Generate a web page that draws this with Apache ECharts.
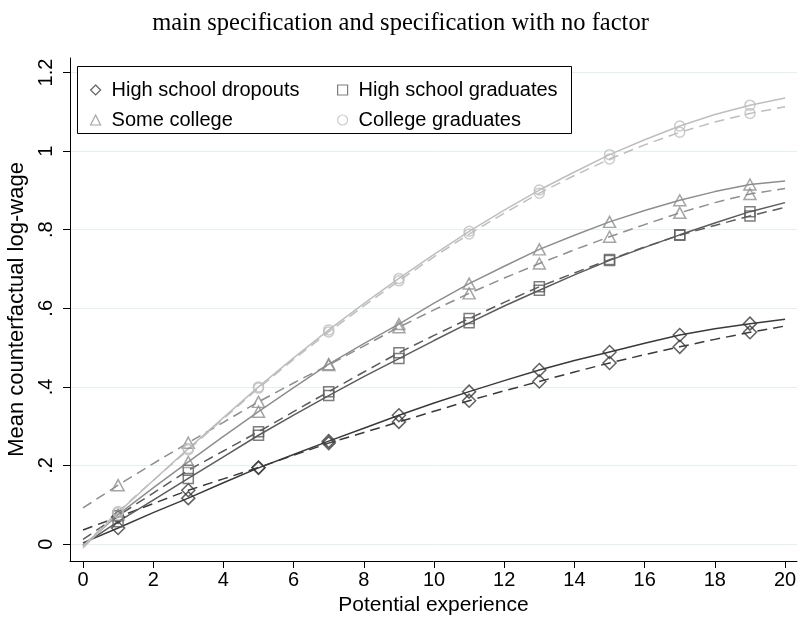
<!DOCTYPE html>
<html>
<head>
<meta charset="utf-8">
<script src="https://cdn.jsdelivr.net/npm/echarts/dist/echarts.min.js"></script>
<style>
html,body{margin:0;padding:0;background:#fff;}
#chart{width:801px;height:619px;}
</style>
</head>
<body>
<div id="chart"></div>
<script>
// ---- data ----
const experience = [0,1,2,3,4,5,6,7,8,9,10,11,12,13,14,15,16,17,18,19,20];
const markerExperience = [1,3,5,7,9,11,13,15,17,19];

const xTickValues = [0,2,4,6,8,10,12,14,16,18,20];
const yTickValues = [0,0.2,0.4,0.6,0.8,1,1.2];
const yTickLabels = ['0','.2','.4','.6','.8','1','1.2'];

const groupNames = ['High school dropouts','High school graduates','Some college','College graduates'];

// fitted curves, main specification (solid)
const dropoutsMain   = [0.003,0.041,0.080,0.117,0.156,0.194,0.228,0.262,0.295,0.328,0.359,0.388,0.416,0.443,0.467,0.489,0.511,0.532,0.548,0.561,0.572];
const hsGradsMain    = [-0.002,0.057,0.112,0.167,0.222,0.277,0.328,0.378,0.426,0.472,0.518,0.563,0.606,0.646,0.685,0.722,0.755,0.787,0.817,0.846,0.869];
const someCollMain   = [-0.005,0.075,0.143,0.209,0.274,0.337,0.398,0.458,0.510,0.560,0.613,0.663,0.707,0.750,0.786,0.820,0.849,0.875,0.897,0.915,0.924];
const collGradsMain  = [-0.010,0.080,0.162,0.243,0.322,0.400,0.474,0.545,0.612,0.676,0.737,0.796,0.850,0.901,0.947,0.991,1.029,1.064,1.093,1.117,1.135];

// fitted curves, specification with no factor (dashed)
const dropoutsNoF    = [0.036,0.069,0.103,0.137,0.166,0.195,0.226,0.257,0.284,0.311,0.338,0.365,0.390,0.414,0.438,0.461,0.482,0.502,0.521,0.539,0.555];
const hsGradsNoF     = [0.012,0.072,0.130,0.188,0.237,0.286,0.337,0.388,0.438,0.487,0.531,0.574,0.615,0.655,0.690,0.724,0.756,0.786,0.811,0.835,0.857];
const someCollNoF    = [0.092,0.150,0.205,0.258,0.310,0.362,0.410,0.456,0.504,0.552,0.596,0.638,0.677,0.714,0.749,0.782,0.813,0.843,0.869,0.891,0.905];
const collGradsNoF   = [-0.005,0.083,0.162,0.240,0.319,0.397,0.470,0.540,0.606,0.670,0.731,0.789,0.842,0.893,0.938,0.980,1.016,1.048,1.074,1.096,1.113];

// markers at odd experience years
const dropoutsMainPts  = [0.041,0.117,0.194,0.262,0.328,0.388,0.443,0.489,0.532,0.561];
const hsGradsMainPts   = [0.057,0.167,0.277,0.378,0.472,0.563,0.646,0.722,0.787,0.846];
const someCollMainPts  = [0.075,0.209,0.337,0.458,0.560,0.663,0.750,0.820,0.875,0.915];
const collGradsMainPts = [0.080,0.243,0.400,0.545,0.676,0.796,0.901,0.991,1.064,1.117];

const dropoutsNoFPts   = [0.069,0.137,0.195,0.257,0.311,0.365,0.414,0.461,0.502,0.539];
const hsGradsNoFPts    = [0.072,0.188,0.286,0.388,0.487,0.574,0.655,0.724,0.786,0.835];
const someCollNoFPts   = [0.150,0.258,0.362,0.456,0.552,0.638,0.714,0.782,0.843,0.891];
const collGradsNoFPts  = [0.083,0.240,0.397,0.540,0.670,0.789,0.893,0.980,1.048,1.096];

// ---- build chart ----
const colors  = ['#3a3a3a','#5c5c5c','#8e8e8e','#bebebe'];
const symbols = ['diamond','rect','triangle','circle'];
const symSizes = [[13,13],[10,10],[12,11],[10,10]];
const mainLines = [dropoutsMain,hsGradsMain,someCollMain,collGradsMain];
const noFLines  = [dropoutsNoF,hsGradsNoF,someCollNoF,collGradsNoF];
const mainPts   = [dropoutsMainPts,hsGradsMainPts,someCollMainPts,collGradsMainPts];
const noFPts    = [dropoutsNoFPts,hsGradsNoFPts,someCollNoFPts,collGradsNoFPts];

const pair = (xs, ys) => xs.map((x,i)=>[x, ys[i]]);
const series = [];
for (let g = 0; g < 4; g++) {
  series.push({
    name: groupNames[g] + ' (main)', type: 'line', data: pair(experience, mainLines[g]),
    smooth: false, showSymbol: false, symbol: 'none',
    lineStyle: {color: colors[g], width: 1.5, type: 'solid'}, z: 3
  });
  series.push({
    name: groupNames[g] + ' (no factor)', type: 'line', data: pair(experience, noFLines[g]),
    smooth: false, showSymbol: false, symbol: 'none',
    lineStyle: {color: colors[g], width: 1.5, type: [10,6]}, z: 3
  });
  series.push({
    name: groupNames[g], type: 'scatter', data: pair(markerExperience, mainPts[g]),
    symbol: symbols[g], symbolSize: symSizes[g],
    itemStyle: {color: 'rgba(255,255,255,0)', borderColor: colors[g], borderWidth: 1.5}, z: 4
  });
  series.push({
    name: groupNames[g] + ' ', type: 'scatter', data: pair(markerExperience, noFPts[g]),
    symbol: symbols[g], symbolSize: symSizes[g],
    itemStyle: {color: 'rgba(255,255,255,0)', borderColor: colors[g], borderWidth: 1.5}, z: 4
  });
}

const sansFont = "'Liberation Sans', Arial, Helvetica, sans-serif";
const legendCommon = {
  orient: 'vertical', top: 74, itemWidth: 10, itemHeight: 10, itemGap: 8,
  selectedMode: false, z: 20,
  itemStyle: {borderWidth: 1.2},
  textStyle: {fontFamily: sansFont, fontSize: 20, color: '#000', lineHeight: 22, padding: [0,0,0,6]}
};

const chart = echarts.init(document.getElementById('chart'), null, {renderer: 'canvas'});
chart.setOption({
  animation: false,
  backgroundColor: '#fff',
  title: {
    text: 'main specification and specification with no factor',
    left: 'center', top: 6,
    textStyle: {fontFamily: "'Liberation Serif', 'DejaVu Serif', serif", fontSize: 24.5, fontWeight: 'normal', color: '#000'}
  },
  grid: {left: 70, right: 4, top: 58, bottom: 58, containLabel: false, outerBoundsMode: 'none'},
  xAxis: {
    type: 'value', min: -0.37, max: 20.34,
    name: 'Potential experience', nameLocation: 'middle', nameGap: 31,
    nameTextStyle: {fontFamily: sansFont, fontSize: 21, color: '#000'},
    axisLine: {show: true, onZero: false, lineStyle: {color: '#000', width: 1}},
    axisTick: {show: true, length: 7, customValues: xTickValues, lineStyle: {color: '#000'}},
    axisLabel: {customValues: xTickValues, fontFamily: sansFont, fontSize: 20, color: '#000', margin: 9},
    splitLine: {show: false}
  },
  yAxis: {
    type: 'value', min: -0.043, max: 1.237,
    name: 'Mean counterfactual log-wage', nameLocation: 'middle', nameGap: 26, nameRotate: 90,
    nameTextStyle: {fontFamily: sansFont, fontSize: 22, color: '#000'},
    axisLine: {show: true, onZero: false, lineStyle: {color: '#000', width: 1}},
    axisTick: {show: true, length: 7, customValues: yTickValues, lineStyle: {color: '#000'}},
    axisLabel: {
      customValues: yTickValues, rotate: 90, fontFamily: sansFont, fontSize: 20, color: '#000', margin: 14,
      formatter: function (v) {
        const i = yTickValues.findIndex(t => Math.abs(t - v) < 1e-9);
        return i >= 0 ? yTickLabels[i] : '';
      }
    },
    splitLine: {show: true, lineStyle: {color: '#e6eef0', width: 1}}
  },
  graphic: [{
    type: 'rect', z: 15,
    shape: {x: 77.5, y: 66.5, width: 494, height: 67},
    style: {fill: '#fff', stroke: '#000', lineWidth: 1}
  }],
  legend: [
    Object.assign({}, legendCommon, {left: 85, data: [groupNames[0], groupNames[2]]}),
    Object.assign({}, legendCommon, {left: 332, data: [groupNames[1], groupNames[3]]})
  ],
  series: series
});
</script>
</body>
</html>
